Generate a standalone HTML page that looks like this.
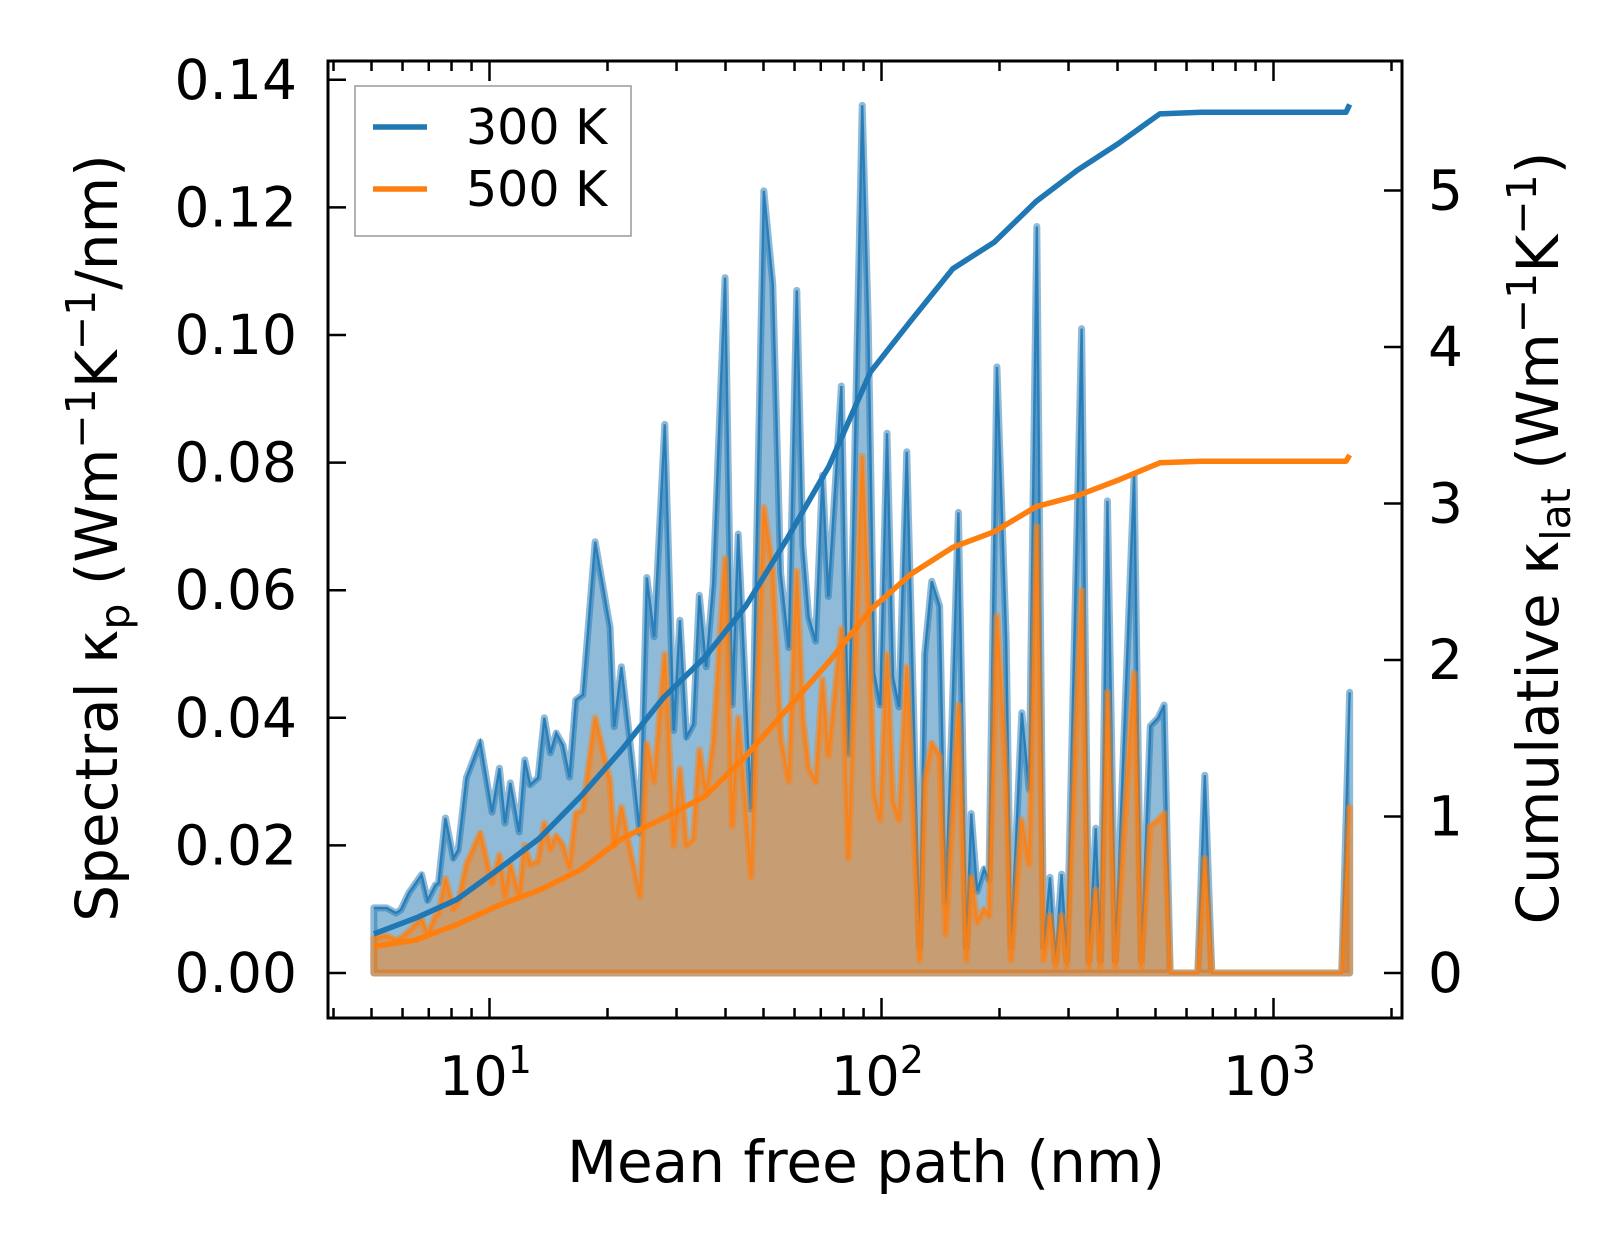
<!DOCTYPE html>
<html><head><meta charset="utf-8">
<style>
html,body{margin:0;padding:0;background:#fff;}
svg{display:block;font-family:"DejaVu Sans","Liberation Sans",sans-serif;}
</style></head>
<body>
<svg id="chart" width="1623" height="1255" viewBox="0 0 1623 1255" xmlns="http://www.w3.org/2000/svg">
<rect width="1623" height="1255" fill="#fff"/>
<g id="series"></g>
<g id="axes"></g>
</svg>
<script>
const mfp = [5.07,5.47,5.77,5.94,6.22,6.71,6.95,7.28,7.41,7.72,8.09,8.32,8.73,9.47,10.15,10.6,10.95,11.3,11.9,12.3,12.7,13.3,13.8,14.3,14.8,15.4,16.0,16.6,17.3,18.6,20.3,20.8,21.7,22.7,24.2,25.2,26.3,28.0,29.5,30.6,31.8,33.1,34.3,35.7,37.2,39.9,41.6,43.1,46.5,50.1,52.8,55.3,58.0,60.8,63.0,65.2,67.9,70.7,73.2,79.0,82.3,89.3,92.5,95.8,99.2,103.3,107,110.8,116,125.2,128.9,134.3,140.7,145.7,151.7,157.1,164.6,169.4,175.4,182.7,188,197,208,214,228,238,249,259,269,278,288,297,324,338,352,362,377,395,441,460,485,508,526,545,641,668,696,1493,1564];
const spec300 = [.0102,.0102,.0094,.0099,.0125,.0154,.0114,.0138,.0141,.0243,.018,.0193,.0306,.0362,.0252,.0321,.0235,.0298,.0221,.0334,.0295,.0306,.040,.0345,.0376,.0357,.0307,.0428,.0436,.0676,.0542,.0386,.048,.0376,.0219,.062,.0527,.086,.038,.0553,.037,.039,.0592,.048,.061,.109,.042,.0688,.0257,.1226,.108,.0627,.051,.107,.067,.0558,.052,.078,.059,.092,.0343,.136,.102,.047,.042,.0846,.0464,.0417,.0817,.004,.05,.0614,.0575,.011,.0417,.0722,.004,.025,.0128,.0163,.0146,.095,.0523,.004,.0408,.0288,.117,.004,.015,.002,.0155,.002,.101,.002,.0227,.002,.074,.002,.078,.002,.0387,.040,.042,0,0,.031,0,0,.044];
const spec500 = [.0055,.0058,.0052,.0055,.0065,.0085,.0060,.0090,.0092,.0148,.0100,.0110,.0170,.0219,.0140,.0185,.0120,.0170,.0120,.0200,.0170,.0175,.0235,.0195,.0215,.0200,.0165,.0250,.0255,.040,.030,.020,.026,.020,.012,.036,.030,.050,.020,.032,.020,.021,.035,.028,.036,.065,.023,.040,.015,.073,.063,.037,.030,.063,.040,.032,.030,.046,.034,.054,.018,.081,.058,.028,.024,.050,.027,.024,.048,.002,.030,.036,.034,.006,.024,.042,.002,.015,.008,.010,.009,.056,.030,.002,.024,.017,.070,.002,.009,.001,.009,.001,.060,.001,.013,.001,.044,.001,.047,.001,.023,.024,.025,0,0,.018,0,0,.026];
const cumMfp = [5.07,6.47,8.26,10.5,13.4,17.1,21.8,27.8,35.5,45.2,57.6,73.5,93.7,119,152,194,248,316,402,513,655,1531,1564];
const cum300 = [0.25,0.35,0.47,0.66,0.86,1.13,1.43,1.76,2.02,2.35,2.78,3.24,3.84,4.17,4.5,4.67,4.93,5.13,5.3,5.49,5.5,5.5,5.55];
const cum500 = [0.17,0.21,0.31,0.43,0.53,0.66,0.86,0.99,1.13,1.39,1.69,1.99,2.32,2.55,2.72,2.82,2.98,3.05,3.15,3.26,3.27,3.27,3.31];
const yLeftTicks = [0,0.02,0.04,0.06,0.08,0.10,0.12,0.14];
const yLeftLabels = ["0.00","0.02","0.04","0.06","0.08","0.10","0.12","0.14"];
const yRightTicks = [0,1,2,3,4,5];
const xMajor = [1,2,3];

const NS="http://www.w3.org/2000/svg";
const L=328,R=1402,T=61,B=1018;
const X=m=>489.5+(Math.log10(m)-1)*392;
const YL=v=>973-v/0.02*127.6;
const YR=k=>973-k*156.5;
function mk(tag,attrs,parent){const e=document.createElementNS(NS,tag);for(const k in attrs)e.setAttribute(k,attrs[k]);parent.appendChild(e);return e;}
const S=document.getElementById('series'),A=document.getElementById('axes');

function area(vals,color,name){
  let pts=[[X(mfp[0]),YL(0)]];
  for(let i=0;i<mfp.length;i++)pts.push([X(mfp[i]),YL(vals[i])]);
  pts.push([X(mfp[mfp.length-1]),YL(0)]);
  const p=mk('polygon',{points:pts.map(p=>p.join(',')).join(' '),fill:color,'fill-opacity':0.5,stroke:color,'stroke-opacity':0.5,'stroke-width':7,'stroke-linejoin':'round'},S);
  
  
  const l=mk('polyline',{points:mfp.map((m,i)=>X(m)+','+YL(vals[i])).join(' '),fill:'none',stroke:color,'stroke-width':2.4,'stroke-opacity':0.85},S);
  
  
}
area(spec300,'#1f77b4','k300');
area(spec500,'#ff7f0e','k500');
function cum(vals,color,name){
  const l=mk('polyline',{points:cumMfp.map((m,i)=>X(m)+','+YR(vals[i])).join(' '),fill:'none',stroke:color,'stroke-width':5.5,'stroke-linejoin':'round'},S);
  
  
}
cum(cum300,'#1f77b4','cumulative-300k-line');
cum(cum500,'#ff7f0e','cumulative-500k-line');

const fr=mk('rect',{x:L,y:T,width:R-L,height:B-T,fill:'none',stroke:'#000','stroke-width':3},A);


for(let d=0;d<=3;d++){for(let k=1;k<=9;k++){const m=k*Math.pow(10,d);const x=X(m);if(x<L+2||x>R-2)continue;const len=k===1?20:10;
  mk('line',{x1:x,y1:B,x2:x,y2:B-len,stroke:'#000','stroke-width':2.5},A);
  mk('line',{x1:x,y1:T,x2:x,y2:T+len,stroke:'#000','stroke-width':2.5},A);}}
xMajor.forEach(e=>{const t=mk('text',{x:X(Math.pow(10,e))-4,y:1095,'font-size':54,'text-anchor':'middle'},A);
  t.innerHTML='10<tspan dy="-22" font-size="38">'+e+'</tspan>';
  
  });
yLeftTicks.forEach((v,i)=>{const y=YL(v);mk('line',{x1:L,y1:y,x2:L+18,y2:y,stroke:'#000','stroke-width':2.5},A);
  const t=mk('text',{x:297,y:y+19,'font-size':55,'text-anchor':'end'},A);t.textContent=yLeftLabels[i];
  
  });
yRightTicks.forEach(k=>{const y=YR(k);mk('line',{x1:R,y1:y,x2:R-18,y2:y,stroke:'#000','stroke-width':2.5},A);
  const t=mk('text',{x:1428,y:y+19,'font-size':55},A);t.textContent=String(k);
  
  });
</script>
<svg style="position:absolute;left:0;top:0" width="1623" height="1255" xmlns="http://www.w3.org/2000/svg">
<text x="866" y="1182" font-size="58" text-anchor="middle" font-family="DejaVu Sans, Liberation Sans, sans-serif">Mean free path (nm)</text>
<text transform="translate(117,538) rotate(-90)" font-size="58" text-anchor="middle" font-family="DejaVu Sans, Liberation Sans, sans-serif">Spectral κ<tspan dy="12" font-size="41">p</tspan><tspan dy="-12"> (Wm</tspan><tspan dy="-22" font-size="41">−1</tspan><tspan dy="22">K</tspan><tspan dy="-22" font-size="41">−1</tspan><tspan dy="22">/nm)</tspan></text>
<text transform="translate(1558,538) rotate(-90)" font-size="58" text-anchor="middle" font-family="DejaVu Sans, Liberation Sans, sans-serif">Cumulative κ<tspan dy="12" font-size="41">lat</tspan><tspan dy="-12"> (Wm</tspan><tspan dy="-22" font-size="41">−1</tspan><tspan dy="22">K</tspan><tspan dy="-22" font-size="41">−1</tspan><tspan dy="22">)</tspan></text>
<g font-family="DejaVu Sans, Liberation Sans, sans-serif">
<rect x="355" y="86" width="276" height="150" fill="#fff" fill-opacity="0.8" stroke="#999" stroke-width="1.5"/>
<line x1="373" y1="127" x2="427" y2="127" stroke="#1f77b4" stroke-width="5.5"/>
<text x="466" y="144" font-size="49">300 K</text>
<line x1="373" y1="189" x2="427" y2="189" stroke="#ff7f0e" stroke-width="5.5"/>
<text x="466" y="206" font-size="49">500 K</text>
</g>
</svg>
</body></html>
